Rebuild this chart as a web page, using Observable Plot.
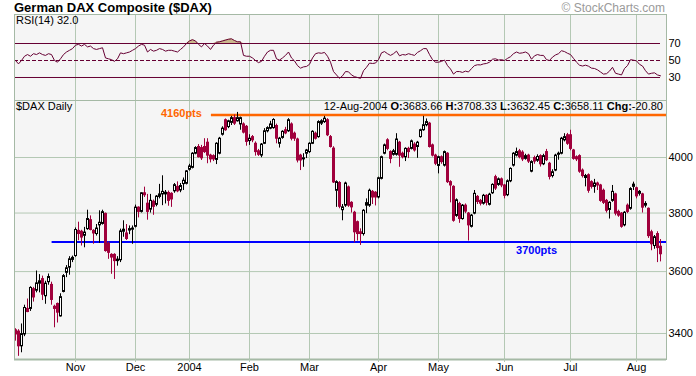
<!DOCTYPE html>
<html><head><meta charset="utf-8">
<script src="https://cdn.jsdelivr.net/npm/d3@7"></script>
<script src="https://cdn.jsdelivr.net/npm/@observablehq/plot@0.6"></script>
<style>
html,body{margin:0;padding:0;background:#fff;}
#chart{position:relative;width:696px;height:376px;overflow:hidden;font-family:"Liberation Sans",Arial,sans-serif;color:#000;}
#chart .t{position:absolute;white-space:nowrap;line-height:1;}
#chart svg{position:absolute;left:0;background:transparent;}
</style></head><body><div id="chart"></div>
<script>
// ---- data ----
const symbolTitle = "German DAX Composite ($DAX)";
const lastDate = "12-Aug-2004";
const monthIdx = [20, 40, 58, 78, 98, 121, 141, 163, 185, 207];
const monthLabels = ["Nov", "Dec", "2004", "Feb", "Mar", "Apr", "May", "Jun", "Jul", "Aug"];
const priceTicks = [3400, 3600, 3800, 4000];
const rsiTicks = [30, 50, 70];
const levels = [4160, 3700];
const levelLabels = ["4160pts", "3700pts"];
const levelStartIdx = [65.3, 12.2];

const open = [
3410,3406,3360,3397,3478,3478,3542,3537,3560,3575,
3519,3565,3556,3485,3494,3454,3533,3596,3613,3639,
3652,3738,3735,3721,3744,3775,3738,3727,3757,3762,
3797,3694,3656,3656,3635,3638,3735,3729,3739,3742,
3752,3819,3804,3870,3833,3812,3840,3829,3857,3866,
3866,3871,3868,3877,3893,3880,3903,3904,3955,3962,
4014,4039,4035,4039,4055,4007,4005,3991,4014,4085,
4140,4114,4130,4148,4136,4124,4124,4115,4061,4076,
4051,4023,4007,4051,4098,4108,4110,4118,4051,4073,
4102,4098,4124,4089,4067,4007,3993,4014,4020,4051,
4089,4076,4127,4133,4140,4076,4033,3879,3907,3810,
3826,3891,3836,3801,3768,3733,3727,3826,3826,3875,
3872,3855,3922,4014,4064,4020,4010,4010,4055,4014,
4001,4032,4032,4048,4039,4076,4102,4121,4127,4045,
4007,3969,4001,3970,4014,3910,3893,3790,3832,3779,
3826,3798,3752,3798,3857,3843,3833,3861,3829,3870,
3928,3900,3920,3898,3863,3913,3970,4007,4023,4018,
3995,4007,3948,3998,3988,4005,3975,4020,3977,3932,
3952,4010,4014,4064,4083,4083,4026,4001,4005,3952,
3925,3935,3910,3893,3905,3898,3879,3843,3811,3843,
3866,3804,3798,3757,3826,3815,3893,3888,3868,3866,
3826,3815,3733,3686,3727,3683.66];
const high = [
3415,3412,3430,3490,3510,3550,3548,3602,3590,3585,
3568,3592,3565,3490,3497,3527,3590,3620,3650,3652,
3748,3768,3740,3750,3810,3790,3742,3760,3808,3810,
3800,3700,3660,3660,3650,3744,3773,3760,3755,3755,
3828,3822,3872,3892,3866,3866,3846,3862,3902,3933,
3880,3878,3872,3905,3911,3905,3925,3952,3975,4018,
4040,4048,4045,4070,4070,4012,4010,4055,4075,4115,
4145,4140,4155,4160,4170,4152,4130,4120,4085,4082,
4058,4030,4052,4108,4115,4136,4146,4125,4075,4100,
4113,4146,4130,4095,4072,4012,4014,4030,4055,4100,
4095,4138,4142,4155,4146,4082,4040,3915,3912,3830,
3910,3896,3840,3806,3772,3745,3812,3850,3885,3880,
3876,3928,4005,4050,4070,4025,4030,4089,4060,4020,
4036,4038,4065,4055,4060,4106,4155,4145,4132,4050,
4012,4005,4006,4024,4018,3915,3897,3850,3838,3830,
3832,3802,3795,3880,3862,3848,3866,3865,3870,3904,
3935,3925,3925,3902,3918,3962,4018,4035,4030,4025,
4012,4012,3988,4005,4010,4010,4012,4030,3982,3955,
4012,4020,4075,4089,4090,4102,4030,4006,4010,3958,
3938,3940,3915,3920,3910,3902,3885,3848,3840,3898,
3870,3810,3802,3805,3832,3890,3910,3892,3880,3870,
3840,3818,3740,3722,3735,3708.33];
const low = [
3376,3329,3340,3390,3466,3470,3500,3530,3530,3505,
3493,3555,3490,3418,3433,3452,3530,3580,3588,3630,
3648,3704,3686,3680,3740,3738,3692,3720,3695,3758,
3665,3641,3591,3574,3618,3630,3716,3705,3725,3692,
3748,3783,3800,3855,3775,3800,3792,3822,3850,3826,
3832,3824,3820,3870,3872,3872,3880,3900,3950,3958,
4010,3998,3989,4015,3977,3980,3985,3974,4010,4080,
4098,4108,4120,4120,4133,4102,4088,4042,4045,4055,
4005,4004,3999,4048,4092,4104,4106,4051,4035,4068,
4085,4094,4062,4060,3980,3952,3964,3996,4015,4048,
4065,4072,4120,4128,4078,4035,3905,3820,3815,3773,
3820,3820,3800,3697,3703,3688,3720,3798,3820,3830,
3825,3850,3918,4010,4025,3977,4005,4005,3964,3995,
3985,3996,4028,4020,3997,4072,4098,4115,4035,4002,
3970,3940,3975,3965,3905,3836,3768,3785,3764,3775,
3798,3703,3748,3794,3830,3825,3828,3825,3825,3866,
3880,3895,3890,3850,3858,3908,3965,4002,3995,3985,
3990,3978,3944,3975,3982,3965,3970,3985,3918,3925,
3948,3990,4010,4058,4045,4025,3990,3985,3942,3925,
3893,3870,3885,3870,3880,3838,3830,3800,3779,3838,
3790,3785,3747,3752,3798,3810,3880,3850,3860,3800,
3818,3712,3670,3675,3630,3632.45];
const close = [
3397,3360,3398,3481,3468,3546,3515,3561,3568,3524,
3560,3582,3507,3478,3466,3516,3585,3611,3641,3646,
3741,3727,3715,3732,3779,3741,3729,3746,3766,3803,
3669,3663,3647,3635,3640,3736,3742,3710,3744,3746,
3819,3804,3870,3863,3804,3843,3822,3858,3866,3875,
3872,3843,3848,3899,3877,3896,3915,3949,3967,4014,
4035,4001,3997,4020,4007,3993,3993,4051,4070,4108,
4102,4136,4148,4127,4148,4148,4093,4058,4070,4064,
4020,4010,4048,4098,4110,4124,4141,4070,4070,4096,
4090,4140,4070,4070,3989,3989,3997,4026,4051,4096,
4070,4133,4136,4146,4083,4039,3909,3910,3822,3820,
3905,3826,3820,3733,3727,3727,3808,3835,3879,3855,
3855,3924,4001,4045,4032,3995,4023,4067,4007,4001,
4032,4020,4060,4026,4055,4102,4121,4133,4039,4007,
3977,4001,3983,4020,3910,3898,3773,3845,3779,3826,
3805,3757,3791,3868,3839,3833,3861,3836,3865,3900,
3887,3920,3898,3861,3913,3958,4014,4020,4001,3993,
4005,3985,3983,3985,4002,3975,4005,3990,3929,3946,
4007,4014,4070,4076,4051,4032,3995,3993,3948,3932,
3932,3879,3893,3905,3898,3843,3836,3808,3836,3875,
3798,3791,3752,3801,3804,3885,3901,3859,3875,3819,
3832,3720,3692,3716,3678.91,3658.11];
const rsi = [
50,46,50,55,57,55,58,57,59,57,
56,58,57,50,48,52,57,60,62,64,
68,69,67,69,66,67,64,63,64,65,
53,52,51,49,52,59,58,59,60,62,
64,67,69,68,60,63,61,62,64,63,
61,62,62,61,60,63,66,70,73,74.5,
73,69,66,70,67,63,68,71.5,72,73,
74,75,75.5,73.5,72,72,56,55,55,53,
50,47.5,49,55,60,62,62,52,50.5,53,
56,60,53,49.5,44,41,42.5,43,45.5,53,
58,59,58.5,59.5,55,48,37,33,29,32,
37,36.7,33,31,30,29,38,42,47,46.5,
47,51,59,60.5,58,56,58,61,55.5,57,
56.5,58,57,56,59.5,61.5,64,64,57,51,
48,48,49,50.5,44,40,34,37,37,36,
37.5,36.5,40.5,44,45,44.8,46,46.5,48,51.5,
52,50.5,51,50,52.5,54.5,58,60,58.5,59,
60,58,51.5,55.5,57,56,56,51,50,54,
56.5,58,61.5,60.5,58.5,57,52.5,48,44.5,43.5,
44.5,43.3,41,40.6,39,36.5,34,34.5,37.5,42,
35,34,33,40.6,44,51,50.4,49.6,45.5,43.5,
38,34,35,35.5,33,32];

// ---- tables ----
const candles = open.map((o, i) => ({i, open: o, high: high[i], low: low[i], close: close[i]}));
const rsiRows = rsi.map((v, i) => ({i, rsi: v}));
const last = candles.length - 1;

// ---- styles ----
const BG = "#f5f5f5", GRID = "#b4c8b4", BORDER = "#a5b9a5", MAROON = "#660033",
      RED = "#a0003c", TAN = "#cbb88e", ORANGE = "#ff6600", BLUE = "#0000ff";
const FONT = '"Liberation Sans", Arial, sans-serif';
const X_DOMAIN = [-1/3, 217];
const baseStyle = {fontFamily: FONT, fontSize: "11px", background: "transparent", overflow: "visible", color: "#000"};

const chart = document.getElementById("chart");

// RSI panel
const rsiPlot = Plot.plot({
  width: 696, height: 100,
  marginTop: 14, marginBottom: 0, marginLeft: 14, marginRight: 30,
  x: {domain: X_DOMAIN, axis: null},
  y: {domain: [2.94, 104.12]},
  style: baseStyle,
  marks: [
    Plot.frame({fill: BG, stroke: "none"}),
    Plot.ruleX(monthIdx, {stroke: GRID}),
    Plot.areaY(rsiRows, {x: "i", y1: 70, y2: d => Math.max(d.rsi, 70), fill: TAN}),
    Plot.areaY(rsiRows, {x: "i", y1: 30, y2: d => Math.min(d.rsi, 30), fill: TAN}),
    Plot.ruleY([70, 30], {x1: X_DOMAIN[0], x2: last, stroke: MAROON}),
    Plot.ruleY([50], {x1: X_DOMAIN[0], x2: last, stroke: MAROON, strokeDasharray: "4,2"}),
    Plot.lineY(rsiRows, {x: "i", y: "rsi", stroke: MAROON, strokeWidth: 1}),
    Plot.frame({stroke: BORDER}),
    Plot.axisY(rsiTicks, {anchor: "right", tickSize: 0, tickPadding: 2, label: null, fontSize: 11})
  ]
});
rsiPlot.style.top = "0px";
chart.appendChild(rsiPlot);

// Price panel
const pricePlot = Plot.plot({
  width: 696, height: 277,
  marginTop: 1, marginBottom: 17, marginLeft: 14, marginRight: 30,
  x: {domain: X_DOMAIN},
  y: {type: "log", domain: [3319.3, 4216.2]},
  color: {type: "identity"},
  style: baseStyle,
  marks: [
    Plot.frame({fill: BG, stroke: "none"}),
    Plot.ruleX(monthIdx, {stroke: GRID}),
    Plot.ruleY(priceTicks, {stroke: GRID}),
    Plot.ruleY([levels[0]], {x1: levelStartIdx[0], x2: X_DOMAIN[1], stroke: ORANGE, strokeWidth: 2.5}),
    Plot.ruleY([levels[1]], {x1: levelStartIdx[1], x2: X_DOMAIN[1], stroke: BLUE, strokeWidth: 2}),
    Plot.ruleX(candles, {x: "i", y1: "low", y2: "high", stroke: d => d.close < d.open ? RED : "#000"}),
    Plot.rect(candles, {
      x1: d => d.i - 1/3, x2: d => d.i + 1/3, y1: "open", y2: "close", dx: 0.5,
      fill: d => d.close < d.open ? RED : "#ffffff",
      stroke: d => d.close < d.open ? RED : "#000"
    }),
    Plot.text([levelLabels[0]], {x: 55.3, y: 4167, fill: ORANGE, fontWeight: "bold", fontSize: 11, textAnchor: "middle"}),
    Plot.text([levelLabels[1]], {x: 173.7, y: 3672, fill: BLUE, fontWeight: "bold", fontSize: 11, textAnchor: "middle"}),
    Plot.frame({stroke: BORDER}),
    Plot.ruleY([3319.3], {stroke: BORDER, strokeWidth: 2}),
    Plot.axisY(priceTicks, {anchor: "right", tickSize: 0, tickPadding: 2, tickFormat: d => String(d), label: null, fontSize: 11}),
    Plot.axisX(monthIdx, {anchor: "bottom", tickSize: 3, tickPadding: 1, stroke: GRID, fill: "#000",
      tickFormat: d => monthLabels[monthIdx.indexOf(d)], label: null, fontSize: 11})
  ]
});
pricePlot.style.top = "99px";
chart.appendChild(pricePlot);

// ---- text overlays ----
function addText(html, css) {
  const el = document.createElement("div");
  el.className = "t";
  el.innerHTML = html;
  Object.assign(el.style, css);
  chart.appendChild(el);
  return el;
}
addText(symbolTitle, {left: "14px", top: "0.5px", fontSize: "13px", fontWeight: "bold"});
addText("\u00a9 StockCharts.com", {right: "31px", top: "2px", fontSize: "12px", color: "#9a9a9a"});
addText("RSI(14) " + rsi[last].toFixed(1), {left: "16px", top: "15px", fontSize: "11px"});
addText("$DAX Daily", {left: "16px", top: "100.5px", fontSize: "11px"});
const c = candles[last];
const chg = (c.close - candles[last - 1].close).toFixed(2);
addText(`${lastDate} <b>O:</b>${c.open.toFixed(2)} <b>H:</b>${c.high.toFixed(2)} <b>L:</b>${c.low.toFixed(2)} <b>C:</b>${c.close.toFixed(2)} <b>Chg:</b>${chg}`,
  {right: "33px", top: "100.5px", fontSize: "11px"});
</script></body></html>
